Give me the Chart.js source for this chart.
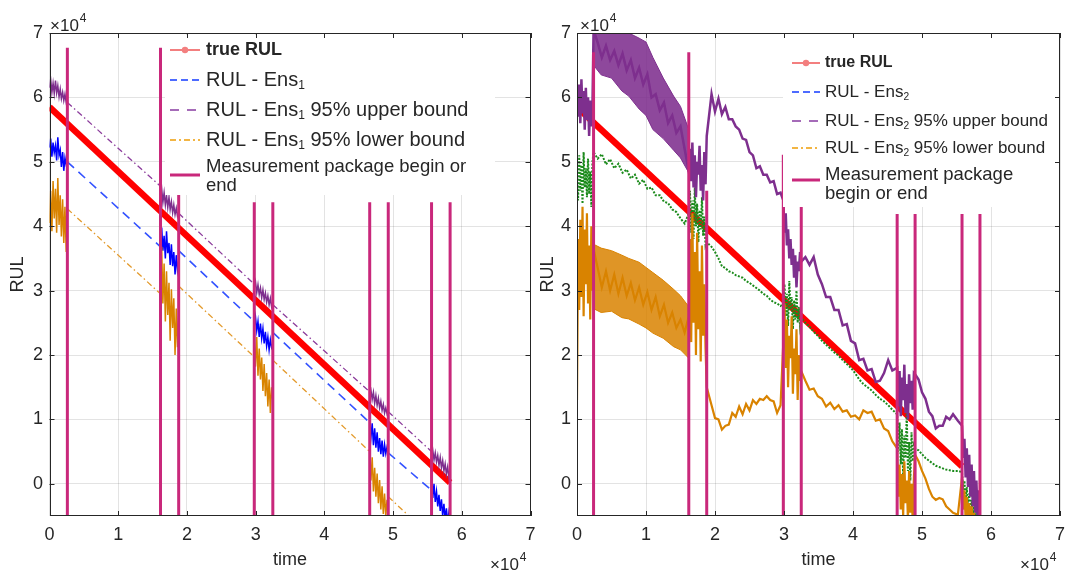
<!DOCTYPE html>
<html lang="en">
<head>
<meta charset="UTF-8">
<title>RUL estimates</title>
<script src="https://cdn.jsdelivr.net/npm/chart.js@4/dist/chart.umd.min.js"></script>
<style>
  body { margin: 0; background: #fff; }
  #wrap { position: relative; width: 1066px; height: 571px; }
  canvas { position: absolute; top: 0; left: 0; }
</style>
</head>
<body>
<div id="wrap">
  <canvas id="left" width="1066" height="571"></canvas>
  <canvas id="right" width="1066" height="571"></canvas>
</div>
<script>
const FONT = "'Liberation Sans', Arial, Helvetica, sans-serif";
const INK = '#262626';
const GRID = 'rgba(38,38,38,0.13)';

const xTicks = [0, 1, 2, 3, 4, 5, 6, 7];
const yTicks = [0, 1, 2, 3, 4, 5, 6, 7];
const yMin = -0.5, yMax = 7;

// ---------- left panel (Ens1) ----------
// measurement package begin/end markers and their heights
const pkgEdges1 = [0.26, 1.615, 1.88, 2.98, 3.25, 4.66, 4.93, 5.56, 5.83];
const pkgTops1 = [6.77, 6.77, 4.59, 4.37, 4.37, 4.37, 4.37, 4.37, 4.37];

const trueRulT1 = [0, 5.83];
const trueRulV1 = [5.85, 0.02];

// estimates while a package is being measured (null = break)
const tPkg1 = [
  0.000, 0.017, 0.035, 0.052, 0.069, 0.087, 0.104, 0.121, 0.139, 0.156, 0.173, 0.191, 0.208, 0.225, 0.243, 0.260, null,
  1.615, 1.633, 1.650, 1.668, 1.686, 1.703, 1.721, 1.739, 1.756, 1.774, 1.792, 1.809, 1.827, 1.845, 1.862, 1.880, null,
  2.980, 2.998, 3.016, 3.034, 3.052, 3.070, 3.088, 3.106, 3.124, 3.142, 3.160, 3.178, 3.196, 3.214, 3.232, 3.250, null,
  4.660, 4.678, 4.696, 4.714, 4.732, 4.750, 4.768, 4.786, 4.804, 4.822, 4.840, 4.858, 4.876, 4.894, 4.912, 4.930, null,
  5.560, 5.578, 5.596, 5.614, 5.632, 5.650, 5.668, 5.686, 5.704, 5.722, 5.740, 5.758, 5.776, 5.794, 5.812, 5.830
];
const ens1Mean = [
  5.22, 5.36, 5.08, 5.30, 5.14, 5.25, 5.02, 5.38, 5.10, 5.18, 4.92, 5.15, 4.86, 5.06, 4.95, 4.98, null,
  3.75, 3.98, 3.62, 3.85, 3.50, 3.92, 3.58, 3.74, 3.40, 3.72, 3.38, 3.60, 3.25, 3.55, 3.32, 3.46, null,
  2.45, 2.59, 2.38, 2.52, 2.28, 2.49, 2.26, 2.41, 2.18, 2.36, 2.14, 2.28, 2.08, 2.24, 2.12, 2.18, null,
  0.88, 0.72, 0.94, 0.60, 0.86, 0.56, 0.80, 0.50, 0.71, 0.46, 0.67, 0.42, 0.61, 0.47, 0.57, 0.50, null,
  -0.05, -0.22, 0.00, -0.28, -0.12, -0.35, -0.17, -0.42, -0.24, -0.50, -0.31, -0.55, -0.38, -0.60, -0.45, -0.60
];
const ens1Upper = [
  6.15, 6.28, 6.08, 6.22, 6.06, 6.26, 6.07, 6.18, 6.01, 6.13, 5.98, 6.08, 5.95, 6.05, 5.92, 5.97, null,
  4.45, 4.58, 4.37, 4.52, 4.33, 4.48, 4.29, 4.45, 4.26, 4.38, 4.21, 4.33, 4.18, 4.28, 4.16, 4.22, null,
  3.05, 3.14, 2.97, 3.09, 2.94, 3.04, 2.89, 3.01, 2.86, 2.96, 2.82, 2.92, 2.78, 2.88, 2.75, 2.82, null,
  1.38, 1.45, 1.31, 1.42, 1.25, 1.37, 1.22, 1.33, 1.18, 1.28, 1.14, 1.23, 1.10, 1.18, 1.09, 1.14, null,
  0.45, 0.52, 0.37, 0.48, 0.34, 0.44, 0.29, 0.41, 0.25, 0.36, 0.20, 0.31, 0.15, 0.26, 0.11, 0.20
];
const ens1Lower = [
  4.05, 4.55, 3.92, 4.70, 4.12, 4.58, 3.90, 4.75, 4.02, 4.48, 3.84, 4.42, 3.74, 4.30, 3.60, 4.20, null,
  3.20, 3.68, 2.80, 3.42, 2.52, 3.30, 2.62, 3.12, 2.22, 3.02, 2.42, 2.88, 2.00, 2.72, 2.12, 2.60, null,
  2.20, 1.82, 2.28, 1.68, 2.10, 1.62, 1.96, 1.44, 1.86, 1.36, 1.72, 1.20, 1.62, 1.10, 1.50, 1.30, null,
  0.35, 0.05, 0.41, -0.12, 0.25, -0.20, 0.16, -0.30, 0.06, -0.40, -0.04, -0.47, -0.15, -0.50, -0.25, -0.45, null,
  -0.55, -0.70, -0.52, -0.75, -0.60, -0.80, -0.65, -0.85, -0.70, -0.90, -0.75, -0.95, -0.80, -1.00, -0.85, -1.00
];

// straight-line predictions between packages
const tExt1 = [0.26, 1.615, null, 1.88, 2.98, null, 3.25, 4.66, null, 4.93, 5.56];
const ens1MeanExt = [5.00, 3.68, null, 3.62, 2.52, null, 2.35, 0.95, null, 0.48, -0.10];
const ens1UpperExt = [5.92, 4.62, null, 4.20, 3.10, null, 2.78, 1.43, null, 1.12, 0.50];
const ens1LowerExt = [4.27, 2.95, null, 3.07, 1.97, null, 1.92, 0.50, null, -0.20, -0.83];

// ---------- right panel (Ens2) ----------
const pkgEdges2 = [0.24, 1.62, 1.88, 2.99, 3.25, 4.64, 4.90, 5.58, 5.84];
const pkgTops2 = [6.7, 6.7, 4.55, 5.11, 4.3, 4.19, 4.19, 4.19, 4.19];

const trueRulT2 = [0, 5.58];
const trueRulV2 = [5.85, 0.27];

const tRun2 = [
  0.000, 0.016, 0.032, 0.048, 0.064, 0.080, 0.096, 0.112, 0.128, 0.144, 0.160, 0.176, 0.192, 0.208, 0.224, 0.240,
  0.30, 0.36, 0.42, 0.48, 0.54, 0.60, 0.66, 0.72, 0.78, 0.84, 0.90, 0.96, 1.02, 1.08, 1.14, 1.20, 1.26, 1.32, 1.38, 1.44, 1.50, 1.56,
  1.620, 1.637, 1.655, 1.672, 1.689, 1.707, 1.724, 1.741, 1.759, 1.776, 1.793, 1.811, 1.828, 1.845, 1.863, 1.880,
  1.95, 2.00, 2.05, 2.10, 2.15, 2.20, 2.25, 2.30, 2.35, 2.40, 2.45, 2.50, 2.55, 2.60, 2.65, 2.70, 2.75, 2.80, 2.85, 2.90, 2.95,
  2.990, 3.007, 3.025, 3.042, 3.059, 3.077, 3.094, 3.111, 3.129, 3.146, 3.163, 3.181, 3.198, 3.215, 3.233, 3.250,
  3.31, 3.37, 3.43, 3.49, 3.55, 3.61, 3.67, 3.73, 3.79, 3.85, 3.91, 3.97, 4.03, 4.09, 4.15, 4.21, 4.27, 4.33, 4.39, 4.45, 4.51, 4.57,
  4.640, 4.657, 4.675, 4.692, 4.709, 4.727, 4.744, 4.761, 4.779, 4.796, 4.813, 4.831, 4.848, 4.865, 4.883, 4.900,
  4.95, 5.00, 5.05, 5.10, 5.15, 5.20, 5.25, 5.30, 5.35, 5.40, 5.45, 5.52,
  5.580, 5.597, 5.615, 5.632, 5.649, 5.667, 5.684, 5.701, 5.719, 5.736, 5.753, 5.771, 5.788, 5.805, 5.823, 5.840
];
const ens2Mean = [
  4.80, 4.40, 5.10, 4.55, 4.95, 4.35, 5.15, 4.60, 4.90, 4.45, 5.05, 4.50, 4.85, 4.30, 5.00, 5.15,
  5.05, 5.12, 4.96, 5.04, 4.90, 4.97, 4.83, 4.88, 4.74, 4.80, 4.66, 4.72, 4.58, 4.60, 4.48, 4.48, 4.38, 4.36, 4.26, 4.22, 4.12, 4.04,
  4.20, 4.55, 3.90, 4.40, 3.80, 4.60, 4.00, 4.35, 3.75, 4.25, 3.95, 4.45, 3.85, 4.15, 3.70, 3.75,
  3.68, 3.60, 3.50, 3.38, 3.35, 3.30, 3.28, 3.24, 3.22, 3.20, 3.15, 3.12, 3.08, 3.04, 3.00, 2.95, 2.92, 2.86, 2.82, 2.80, 2.76,
  2.80, 3.10, 2.60, 2.95, 2.45, 3.15, 2.70, 2.90, 2.40, 2.85, 2.55, 3.00, 2.50, 2.75, 2.45, 2.58,
  2.50, 2.44, 2.36, 2.30, 2.22, 2.16, 2.10, 2.04, 1.99, 1.92, 1.86, 1.80, 1.72, 1.62, 1.55, 1.50, 1.45, 1.38, 1.32, 1.28, 1.22, 1.15,
  1.08, 0.50, 0.95, 0.30, 0.85, 0.10, 0.75, 0.40, 1.10, 0.20, 0.65, 0.05, 0.80, 0.35, 0.60, 0.55,
  0.52, 0.46, 0.40, 0.36, 0.32, 0.28, 0.26, 0.24, 0.22, 0.21, 0.20, 0.20,
  0.18, -0.10, 0.05, -0.25, -0.05, -0.35, -0.15, -0.45, -0.25, -0.50, -0.35, -0.55, -0.45, -0.60, -0.50, -0.60
];
const ens2Upper = [
  6.05, 5.70, 6.20, 5.60, 6.28, 5.75, 6.10, 5.50, 6.15, 5.65, 6.00, 5.40, 5.95, 5.55, 5.85, 7.05,
  6.85, 6.62, 6.80, 6.58, 6.72, 6.50, 6.68, 6.42, 6.58, 6.30, 6.46, 6.20, 6.36, 6.00, 6.05, 5.80, 5.92, 5.60, 5.72, 5.45, 5.55, 5.20,
  4.85, 5.20, 4.70, 5.30, 4.60, 5.10, 4.45, 5.00, 4.80, 5.25, 4.55, 4.95, 4.40, 5.15, 4.65, 5.40,
  6.05, 5.78, 5.98, 5.74, 5.85, 5.66, 5.66, 5.55, 5.50, 5.36, 5.34, 5.15, 5.10, 4.90, 4.93, 4.80, 4.80, 4.68, 4.70, 4.50, 4.52,
  4.40, 3.90, 4.20, 3.70, 3.95, 3.50, 3.80, 3.40, 3.65, 3.20, 3.55, 3.05, 3.45, 3.30, 3.60, 3.45,
  3.52, 3.40, 3.52, 3.25, 3.10, 2.90, 2.90, 2.70, 2.70, 2.46, 2.48, 2.22, 2.18, 1.92, 1.94, 1.76, 1.78, 1.58, 1.60, 1.72, 1.92, 1.76,
  1.80, 1.20, 1.75, 1.05, 1.65, 1.30, 1.85, 1.10, 1.55, 1.00, 1.70, 1.25, 1.60, 1.15, 1.72, 1.70,
  1.62, 1.42, 1.32, 1.12, 1.05, 0.86, 0.90, 0.90, 1.04, 1.00, 1.08, 0.98,
  0.90, 0.40, 0.70, 0.10, 0.55, -0.05, 0.45, -0.20, 0.30, -0.35, 0.20, -0.45, 0.05, -0.50, -0.10, -0.55
];
const ens2Lower = [
  1.30, 3.80, 2.70, 4.10, 2.90, 4.30, 2.60, 3.95, 3.10, 4.20, 2.80, 3.70, 2.55, 4.00, 3.00, 3.65,
  3.35, 3.05, 3.30, 3.00, 3.25, 2.95, 3.20, 2.92, 3.12, 2.85, 3.05, 2.78, 2.98, 2.70, 2.90, 2.60, 2.78, 2.50, 2.66, 2.42, 2.55, 2.35,
  2.60, 3.80, 2.20, 4.20, 2.50, 3.60, 2.00, 3.90, 2.40, 3.30, 1.90, 3.70, 2.30, 3.10, 2.10, 1.50,
  1.22, 1.02, 1.00, 0.84, 0.90, 0.92, 1.10, 1.04, 1.20, 1.08, 1.24, 1.14, 1.30, 1.24, 1.32, 1.30, 1.36, 1.30, 1.28, 1.10, 1.22,
  2.20, 2.80, 1.80, 2.55, 1.50, 2.30, 1.95, 2.60, 1.40, 2.10, 1.70, 2.40, 1.30, 2.00, 1.60, 1.75,
  1.60, 1.46, 1.48, 1.36, 1.32, 1.20, 1.26, 1.16, 1.22, 1.12, 1.14, 1.04, 1.06, 1.00, 1.14, 1.10, 1.12, 0.98, 1.00, 0.86, 0.82, 0.66,
  0.55, -0.20, 0.30, -0.40, 0.15, -0.50, 0.35, -0.30, 0.05, -0.55, 0.20, -0.45, 0.00, -0.60, 0.10, 0.45,
  0.35, 0.20, 0.08, -0.08, -0.20, -0.25, -0.22, -0.24, -0.35, -0.40, -0.45, -0.48,
  0.10, -0.40, -0.10, -0.55, -0.20, -0.60, -0.30, -0.65, -0.35, -0.70, -0.45, -0.70, -0.50, -0.75, -0.55, -0.80
];

// spread of both bounds between the first two packages
const tBand2 = [0.24, 0.35, 0.5, 0.65, 0.75, 0.9, 1.0, 1.1, 1.25, 1.4, 1.5, 1.62];
const upperBandHi = [7.1, 7.1, 7.1, 7.1, 7.0, 6.92, 6.86, 6.62, 6.3, 6.02, 5.86, 5.5];
const upperBandLo = [6.5, 6.35, 6.3, 6.1, 6.02, 5.82, 5.72, 5.5, 5.36, 5.18, 5.06, 4.83];
const lowerBandHi = [3.72, 3.66, 3.62, 3.55, 3.50, 3.44, 3.36, 3.28, 3.16, 3.02, 2.92, 2.75];
const lowerBandLo = [2.72, 2.66, 2.68, 2.58, 2.56, 2.48, 2.42, 2.34, 2.26, 2.13, 2.08, 1.95];

// ---------- helpers ----------
const C = {
  red: '#ff0000',
  blue: '#0000ff',
  blueDash: '#3352ff',
  purple: '#7e2f8e',
  purpleDash: '#8c3d9c',
  orange: '#d98300',
  orangeDash: '#e39a2c',
  green: '#1b8a1b',
  magenta: '#c9287b'
};

function pts(ts, vs) {
  return ts.map((t, i) => ({ x: t, y: vs[i] }));
}

function markerLines(edges, tops) {
  const out = [];
  edges.forEach((e, i) => {
    out.push({ x: e, y: yMin }, { x: e, y: tops[i] }, { x: null, y: null });
  });
  return out;
}

function line(data, color, width, dash, extra) {
  return Object.assign({
    data, borderColor: color, borderWidth: width, borderDash: dash || [],
    pointRadius: 0, fill: false
  }, extra || {});
}

function makeScales(yAxisWidth, yTitlePad, yTickPad) {
  return {
    x: {
      type: 'linear', min: 0, max: 7,
      afterBuildTicks: s => { s.ticks = xTicks.map(v => ({ value: v })); },
      // fixed axis band, no extra room reserved for the end labels
      afterFit: s => { s.height = 55; s.paddingLeft = 0; s.paddingRight = 0; },
      grid: { color: GRID, drawTicks: false },
      border: { display: false },
      ticks: { font: { size: 18 }, color: INK, padding: 8, maxRotation: 0 },
      title: { display: true, text: 'time', font: { size: 18 }, color: INK, padding: { top: 0, bottom: 0 } }
    },
    y: {
      type: 'linear', min: yMin, max: yMax,
      afterBuildTicks: s => { s.ticks = yTicks.map(v => ({ value: v })); },
      afterFit: s => { s.width = yAxisWidth; s.paddingTop = 0; s.paddingBottom = 0; },
      grid: { color: GRID, drawTicks: false },
      border: { display: false },
      ticks: { font: { size: 18 }, color: INK, padding: yTickPad },
      title: { display: true, text: 'RUL', font: { size: 18 }, color: INK, padding: { top: yTitlePad, bottom: 0 } }
    }
  };
}

// legend box, axes frame with inward ticks and the x10^4 multipliers
const panelDecor = {
  id: 'panelDecor',
  afterDatasetsDraw(chart, args, opts) {
    const { ctx, chartArea: a, scales: { x, y } } = chart;
    ctx.save();

    const lg = opts.legend;
    ctx.fillStyle = '#fff';
    ctx.fillRect(lg.x, lg.y, lg.w, lg.h);
    lg.items.forEach(it => {
      const sy = it.sy || it.y;
      ctx.strokeStyle = it.color;
      ctx.lineWidth = it.width;
      ctx.setLineDash(it.dash || []);
      ctx.beginPath();
      ctx.moveTo(lg.sx0, sy);
      ctx.lineTo(lg.sx1, sy);
      ctx.stroke();
      ctx.setLineDash([]);
      if (it.marker) {
        ctx.fillStyle = it.color;
        ctx.beginPath();
        ctx.arc((lg.sx0 + lg.sx1) / 2, sy, 3.2, 0, Math.PI * 2);
        ctx.fill();
      }
      ctx.fillStyle = INK;
      ctx.textBaseline = 'middle';
      ctx.textAlign = 'left';
      it.lines.forEach((txt, li) => {
        let tx = lg.tx;
        const ty = it.y + li * it.lh;
        txt.split('|').forEach((part, pi) => {
          const sub = pi % 2 === 1;
          const size = sub ? it.size * 0.6 : it.size;
          ctx.font = `${it.bold && !sub ? 'bold ' : ''}${size}px ${FONT}`;
          ctx.fillText(part, tx, sub ? ty + it.size * 0.28 : ty);
          tx += ctx.measureText(part).width;
        });
      });
    });

    // box and inward tick marks
    ctx.strokeStyle = INK;
    ctx.lineWidth = 1;
    ctx.strokeRect(Math.round(a.left) + 0.5, Math.round(a.top) + 0.5,
      Math.round(a.width) - 1, Math.round(a.height) - 1);
    ctx.beginPath();
    xTicks.forEach(v => {
      const px = Math.round(x.getPixelForValue(v)) + 0.5;
      ctx.moveTo(px, a.bottom); ctx.lineTo(px, a.bottom - 5);
      ctx.moveTo(px, a.top); ctx.lineTo(px, a.top + 5);
    });
    yTicks.forEach(v => {
      const py = Math.round(y.getPixelForValue(v)) + 0.5;
      ctx.moveTo(a.left, py); ctx.lineTo(a.left + 5, py);
      ctx.moveTo(a.right, py); ctx.lineTo(a.right - 5, py);
    });
    ctx.stroke();

    ctx.fillStyle = INK;
    ctx.textBaseline = 'alphabetic';
    opts.exponents.forEach(([ex, ey]) => {
      ctx.font = `17px ${FONT}`;
      ctx.fillText('\u00d710', ex, ey);
      const w = ctx.measureText('\u00d710').width;
      ctx.font = `12px ${FONT}`;
      ctx.fillText('4', ex + w + 1, ey - 9);
    });
    ctx.restore();
  }
};

function legendItems(idx, sizes) {
  return [
    { y: sizes.y[0], lines: ['true RUL'], bold: true, size: sizes.first, lh: 0, color: '#f37f7f', width: 2, marker: true },
    { y: sizes.y[1], lines: ['RUL - Ens|' + idx], size: sizes.body, lh: 0, color: '#4d6bff', width: 2, dash: [7, 4] },
    { y: sizes.y[2], lines: ['RUL - Ens|' + idx + '| 95% upper bound'], size: sizes.body, lh: 0, color: '#a56bb8', width: 2, dash: [9, 8] },
    { y: sizes.y[3], lines: ['RUL - Ens|' + idx + '| 95% lower bound'], size: sizes.body, lh: 0, color: '#f2b544', width: 2, dash: [6, 3, 2, 3] },
    { y: sizes.y[4], sy: sizes.msy, lines: sizes.mlines, size: 18.5, lh: 19, color: C.magenta, width: 3 }
  ];
}

function baseOptions(pad, yAxisWidth, yTitlePad, yTickPad, decor) {
  return {
    responsive: false,
    animation: false,
    devicePixelRatio: 1,
    layout: { padding: Object.assign({ top: 33, bottom: 0 }, pad) },
    elements: { line: { tension: 0 }, point: { radius: 0 } },
    scales: makeScales(yAxisWidth, yTitlePad, yTickPad),
    plugins: { legend: { display: false }, tooltip: { enabled: false }, panelDecor: decor }
  };
}

Chart.defaults.font.family = FONT;
Chart.defaults.color = INK;

// first dataset in the list is drawn on top
new Chart(document.getElementById('left'), {
  type: 'line',
  data: {
    datasets: [
      line(markerLines(pkgEdges1, pkgTops1), C.magenta, 3),
      line(pts(tPkg1, ens1Lower), C.orange, 1.5),
      line(pts(tExt1, ens1LowerExt), C.orangeDash, 1.3, [6, 3, 1.5, 3]),
      line(pts(tPkg1, ens1Upper), C.purple, 1.5),
      line(pts(tExt1, ens1UpperExt), C.purpleDash, 1.3, [6, 3, 1.5, 3]),
      line(pts(tPkg1, ens1Mean), C.blue, 1.5),
      line(pts(tExt1, ens1MeanExt), C.blueDash, 1.6, [9, 6]),
      line(pts(trueRulT1, trueRulV1), C.red, 6.5)
    ]
  },
  options: baseOptions({ left: 0, right: 535.5 }, 49.5, 7, 6.5, {
    legend: {
      x: 165, y: 35, w: 330, h: 160, sx0: 170, sx1: 200, tx: 206,
      items: legendItems('1', {
        y: [50, 80, 110, 140, 167], first: 18, body: 20, msy: 175,
        mlines: ['Measurement package begin or', 'end']
      })
    },
    exponents: [[50, 31], [490, 570]]
  }),
  plugins: [panelDecor]
});

new Chart(document.getElementById('right'), {
  type: 'line',
  data: {
    datasets: [
      line(markerLines(pkgEdges2, pkgTops2), C.magenta, 3),
      line(pts(tRun2, ens2Lower), C.orange, 2.2),
      line(pts(tBand2, lowerBandHi), C.orange, 1),
      line(pts(tBand2, lowerBandLo), C.orange, 1, null, { fill: '-1', backgroundColor: 'rgba(217,131,0,0.85)' }),
      line(pts(tRun2, ens2Upper), C.purple, 2.5),
      line(pts(tBand2, upperBandHi), C.purple, 1),
      line(pts(tBand2, upperBandLo), C.purple, 1, null, { fill: '-1', backgroundColor: 'rgba(126,47,142,0.88)' }),
      line(pts(tRun2, ens2Mean), C.green, 2, [2, 1.5]),
      line(pts(trueRulT2, trueRulV2), C.red, 6.5)
    ]
  },
  options: baseOptions({ left: 535, right: 6 }, 42, 2, 6, {
    legend: {
      x: 783, y: 35, w: 276, h: 172, sx0: 792, sx1: 820, tx: 825,
      items: legendItems('2', {
        y: [63, 92, 121, 148, 175], first: 16, body: 17, msy: 180,
        mlines: ['Measurement package', 'begin or end']
      })
    },
    exponents: [[580, 31], [1020, 570]]
  }),
  plugins: [panelDecor]
});
</script>
</body>
</html>
